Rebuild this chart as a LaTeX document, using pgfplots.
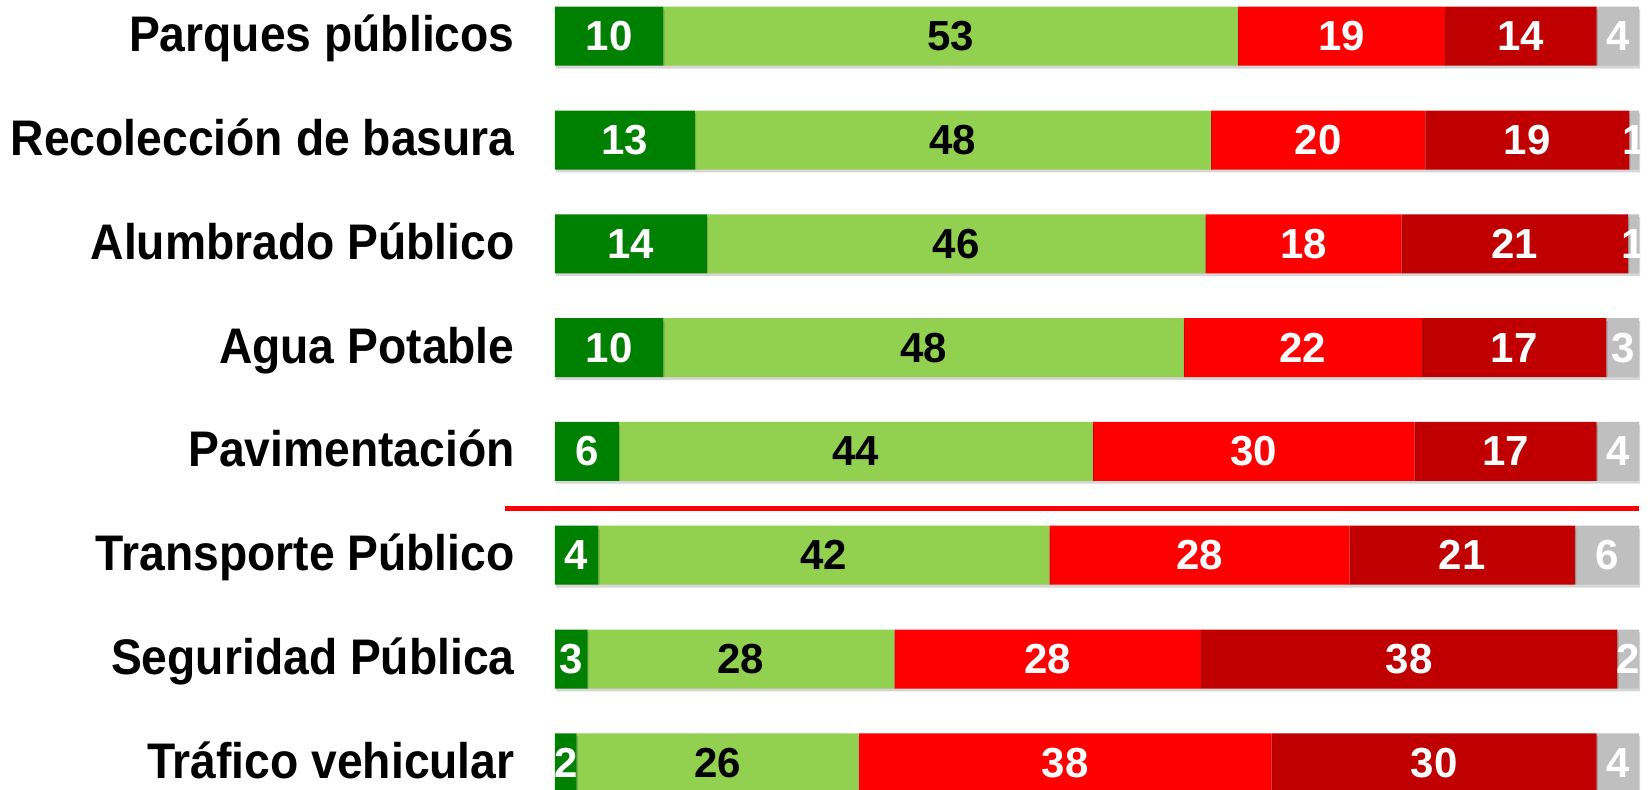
\documentclass[border=0pt]{standalone}
\usepackage{fontspec}
\setmainfont{Liberation Sans}
\usepackage{graphicx}
\usepackage{pgfplots}
\pgfplotsset{compat=1.18}
\usepackage{pgfplotstable}
\definecolor{dgreen}{HTML}{008000}
\definecolor{lgreen}{HTML}{92D050}
\definecolor{bred}{HTML}{FF0000}
\definecolor{dred}{HTML}{C00000}
\definecolor{lgray}{HTML}{BFBFBF}
\newcommand\lab[1]{\scalebox{0.925}[1]{#1}}
\pgfplotstableread{
idx dg lg r dr gr ldg llg lr ldr lgr
1 10.0 53.0 19.1 14.0 3.9 10 53 19 14 4
2 12.9 47.6 19.8 18.8 0.9 13 48 20 19 1
3 14.0 46.0 18.1 20.9 1.0 14 46 18 21 1
4 10.0 48.0 22.0 17.0 3.0 10 48 22 17 3
5 5.9 43.7 29.7 16.8 3.9 6 44 30 17 4
6 4.0 41.6 27.7 20.8 5.9 4 42 28 21 6
7 3.0 28.3 28.3 38.4 2.0 3 28 28 38 2
8 2.0 26.0 38.1 30.0 3.9 2 26 38 30 4
}\data
\begin{document}
\begin{tikzpicture}
\useasboundingbox (0,0) rectangle (825pt,-395pt);
\begin{axis}[
  at={(277.5pt,7.85pt)}, anchor=north west,
  scale only axis, width=542pt, height=415.2pt,
  xbar stacked, bar width=29.5pt,
  xmin=0, xmax=100, ymin=0.5, ymax=8.5, y dir=reverse,
  axis line style={draw=none}, major tick length=0pt,
  xtick=\empty, ytick={1,2,3,4,5,6,7,8},
  yticklabels={\lab{Parques públicos},\lab{Recolección de basura},\lab{Alumbrado Público},\lab{Agua Potable},\lab{Pavimentación},\lab{Transporte Público},\lab{Seguridad Pública},\lab{Tráfico vehicular}},
  yticklabel style={anchor=base east, inner sep=0pt, xshift=-20pt, yshift=-7.75pt, font=\bfseries\fontsize{25}{25}\selectfont},
  clip=false,
  point meta=explicit,
  /pgf/number format/assume math mode=true,
  nodes near coords={\pgfmathprintnumber[fixed,precision=0,assume math mode=true]{\pgfplotspointmeta}},
  every node near coord/.append style={font=\bfseries\fontsize{21}{21}\selectfont, anchor=center, inner sep=0pt},
  shadowed/.style={preaction={fill=black, opacity=0.16, transform canvas={xshift=0.6pt, yshift=-1.4pt}}},
]
\addplot[fill=dgreen, draw=none, shadowed, every node near coord/.append style={text=white}] table[x=dg, y=idx, meta=ldg] {\data};
\addplot[fill=lgreen, draw=none, shadowed, every node near coord/.append style={text=black}] table[x=lg, y=idx, meta=llg] {\data};
\addplot[fill=bred, draw=none, shadowed, every node near coord/.append style={text=white}] table[x=r, y=idx, meta=lr] {\data};
\addplot[fill=dred, draw=none, shadowed, every node near coord/.append style={text=white}] table[x=dr, y=idx, meta=ldr] {\data};
\addplot[fill=lgray, draw=none, shadowed, every node near coord/.append style={text=white}] table[x=gr, y=idx, meta=lgr] {\data};
\draw[bred, line width=2.67pt] (axis cs:-4.61,5.55) -- (axis cs:100,5.55);
\end{axis}
\end{tikzpicture}
\end{document}
